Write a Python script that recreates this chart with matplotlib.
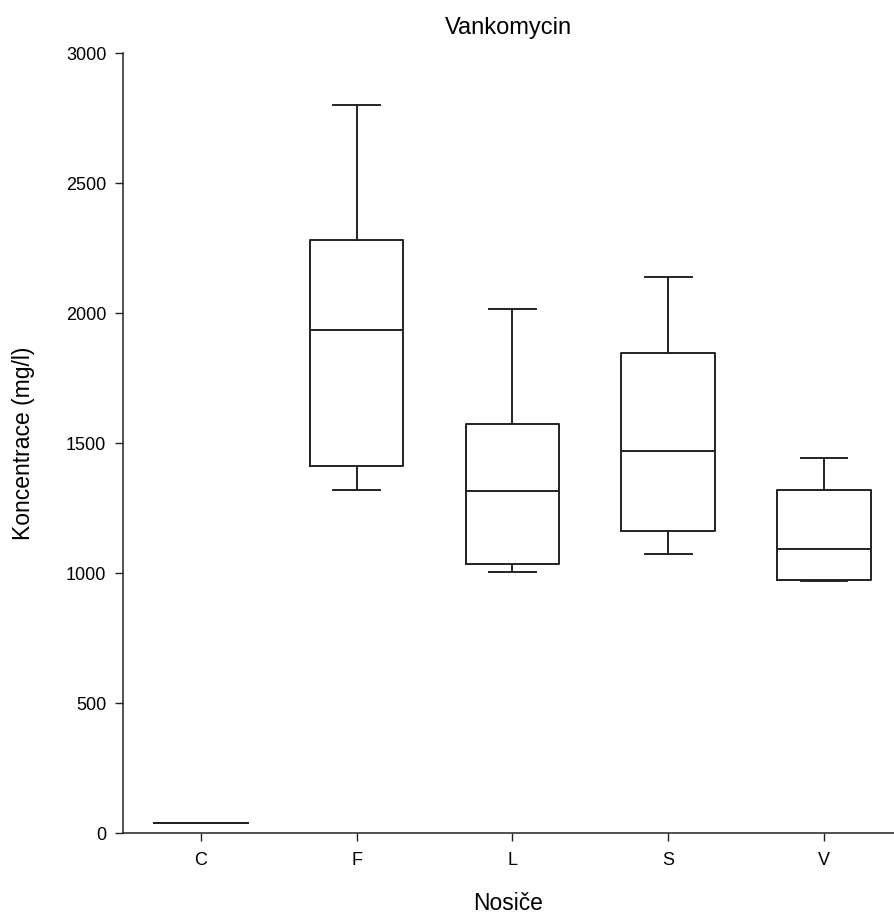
import matplotlib
matplotlib.use('Agg')
from matplotlib import pyplot as plt

# box statistics (mg/l)
categories = ['C', 'F', 'L', 'S', 'V']
whislo = [40, 1320, 1002, 1075, 968]
q1 = [40, 1412, 1033, 1160, 974]
med = [40, 1935, 1315, 1470, 1093]
q3 = [40, 2279, 1573, 1848, 1320]
whishi = [40, 2800, 2017, 2138, 1441]


def main():
    plt.rcParams['font.family'] = ['Liberation Sans', 'DejaVu Sans']
    plt.rcParams['font.size'] = 13

    stats = []
    for i, name in enumerate(categories):
        stats.append({'label': name, 'whislo': whislo[i], 'q1': q1[i], 'med': med[i],
                      'q3': q3[i], 'whishi': whishi[i], 'fliers': []})

    fig = plt.figure(figsize=(8.94, 9.14), dpi=100)
    ax = fig.add_axes([123 / 894, 1 - 833 / 914, 1 - 123 / 894, (833 - 53) / 914])

    line = dict(color='#222222', linewidth=1.4)
    ax.bxp(stats, positions=range(len(categories)), widths=0.6, capwidths=0.3,
           showfliers=False, boxprops=line, medianprops=line,
           whiskerprops=line, capprops=line)

    ax.set_xlim(-0.5, 4.45)
    ax.set_ylim(0, 3000)
    ax.set_yticks([0, 500, 1000, 1500, 2000, 2500, 3000])
    ax.spines['top'].set_visible(False)
    ax.spines['right'].set_visible(False)
    for s in ['left', 'bottom']:
        ax.spines[s].set_linewidth(1.1)
        ax.spines[s].set_color('#222222')
    ax.tick_params(direction='out', length=6, width=1.0, color='#222222', labelsize=13)
    ax.tick_params(axis='x', pad=8)
    ax.tick_params(axis='y', pad=6)

    ax.set_title('Vankomycin', fontsize=17, pad=14)
    ax.set_xlabel('Nosiče', fontsize=16.5, labelpad=16)
    ax.set_ylabel('Koncentrace (mg/l)', fontsize=16.5, labelpad=22)

    fig.savefig('out.png', dpi=100)


if __name__ == '__main__':
    main()
